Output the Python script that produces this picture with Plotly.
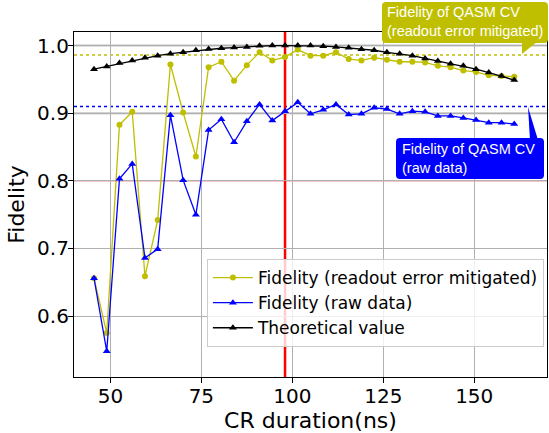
import plotly.graph_objects as go

# ---- data ----
cr_duration = [45.5, 49, 52.5, 56, 59.5, 63, 66.5, 70, 73.5, 77, 80.5, 84, 87.5, 91, 94.5, 98,
               101.5, 105, 108.5, 112, 115.5, 119, 122.5, 126, 129.5, 133, 136.5, 140, 143.5,
               147, 150.5, 154, 157.5, 161]
fid_mitigated = [0.656, 0.575, 0.883, 0.902, 0.659, 0.742, 0.972, 0.901, 0.836, 0.968, 0.976,
                 0.948, 0.971, 0.990, 0.978, 0.983, 0.994, 0.985, 0.985, 0.990, 0.980, 0.978,
                 0.982, 0.979, 0.976, 0.976, 0.975, 0.970, 0.968, 0.963, 0.961, 0.956, 0.955, 0.954]
fid_raw = [0.656, 0.548, 0.803, 0.825, 0.686, 0.699, 0.897, 0.801, 0.750, 0.875, 0.891, 0.857,
           0.888, 0.913, 0.889, 0.903, 0.916, 0.899, 0.905, 0.913, 0.898, 0.899, 0.908, 0.906,
           0.899, 0.903, 0.902, 0.896, 0.896, 0.893, 0.890, 0.886, 0.886, 0.884]
fid_theory = [0.965, 0.969, 0.974, 0.978, 0.982, 0.985, 0.988, 0.990, 0.993, 0.995, 0.996,
              0.997, 0.998, 0.9995, 1.0, 1.0, 1.0, 1.0, 0.999, 0.998, 0.9966, 0.9946, 0.993,
              0.990, 0.988, 0.985, 0.981, 0.977, 0.973, 0.970, 0.965, 0.960, 0.955, 0.949]
qasm_cv_mitigated = 0.986
qasm_cv_raw = 0.910
threshold = 0.8
chosen_duration = 98
ref_lines = [1.0, 0.9]
x_ticks = [50, 75, 100, 125, 150]
y_ticks = [0.6, 0.7, 0.8, 0.9, 1.0]

YEL = "#bfbf00"
BLU = "#0000ff"
FONT = "DejaVu Sans"

# ---- layout geometry (pixels) ----
W, H = 549, 433
ML, MR, MT, MB = 74, 2, 32, 56
PW, PH = W - ML - MR, H - MT - MB


def px(xp):
    return (xp - ML) / PW


def py(yp):
    return (H - MB - yp) / PH


def rounded_box(x0, y0, x1, y1, r=4):
    X0, X1 = px(x0), px(x1)
    Y0, Y1 = py(y0), py(y1)  # Y0 top, Y1 bottom
    rx, ry = r / PW, r / PH
    return (f"M {X0+rx} {Y0} L {X1-rx} {Y0} Q {X1} {Y0} {X1} {Y0-ry} "
            f"L {X1} {Y1+ry} Q {X1} {Y1} {X1-rx} {Y1} L {X0+rx} {Y1} "
            f"Q {X0} {Y1} {X0} {Y1+ry} L {X0} {Y0-ry} Q {X0} {Y0} {X0+rx} {Y0} Z")


def wedge(pts):
    s = " L ".join(f"{px(a)} {py(b)}" for a, b in pts)
    return f"M {s} Z"


fig = go.Figure()
fig.add_trace(go.Scatter(x=cr_duration, y=fid_mitigated, mode="lines+markers",
                         name="Fidelity (readout error mitigated)",
                         line=dict(color=YEL, width=1.3),
                         marker=dict(symbol="circle", size=6, color=YEL)))
fig.add_trace(go.Scatter(x=cr_duration, y=fid_raw, mode="lines+markers",
                         name="Fidelity (raw data)",
                         line=dict(color=BLU, width=1.3),
                         marker=dict(symbol="triangle-up", size=7, color=BLU)))
fig.add_trace(go.Scatter(x=cr_duration, y=fid_theory, mode="lines+markers",
                         name="Theoretical value",
                         line=dict(color="black", width=1.3),
                         marker=dict(symbol="triangle-up", size=7, color="black")))

shapes = []
for v in ref_lines:
    shapes.append(dict(type="line", xref="paper", x0=0, x1=1, yref="y", y0=v, y1=v,
                       line=dict(color="#d3d3d3", width=2.5), layer="below"))
shapes.append(dict(type="line", xref="paper", x0=0, x1=1, yref="y", y0=threshold, y1=threshold,
                   line=dict(color="rgba(215,70,70,0.6)", width=1.5), layer="below"))
shapes.append(dict(type="line", xref="paper", x0=0, x1=1, yref="y", y0=qasm_cv_mitigated,
                   y1=qasm_cv_mitigated, line=dict(color=YEL, width=1.5, dash="dot"), layer="below"))
shapes.append(dict(type="line", xref="paper", x0=0, x1=1, yref="y", y0=qasm_cv_raw,
                   y1=qasm_cv_raw, line=dict(color=BLU, width=1.5, dash="dot"), layer="below"))
shapes.append(dict(type="line", xref="x", x0=chosen_duration, x1=chosen_duration, yref="paper",
                   y0=0, y1=1, line=dict(color="red", width=2.5), layer="below"))

# callout boxes with pointer wedges
shapes.append(dict(type="path", xref="paper", yref="paper", path=rounded_box(382, 2, 548, 43),
                   fillcolor=YEL, line=dict(width=0), layer="above"))
shapes.append(dict(type="path", xref="paper", yref="paper",
                   path=wedge([(522, 54), (522, 41), (538, 41)]),
                   fillcolor=YEL, line=dict(width=0), layer="above"))
shapes.append(dict(type="path", xref="paper", yref="paper", path=rounded_box(396, 138, 544, 179),
                   fillcolor=BLU, line=dict(width=0), layer="above"))
shapes.append(dict(type="path", xref="paper", yref="paper",
                   path=wedge([(528, 107), (530, 140), (538, 140)]),
                   fillcolor=BLU, line=dict(width=0), layer="above"))

annotations = [
    dict(x=px(386), y=py(3), xref="paper", yref="paper", xanchor="left", yanchor="top",
         text="Fidelity of QASM CV<br>(readout error mitigated)", align="left",
         showarrow=False, borderpad=0,
         font=dict(family="Liberation Sans", size=14.5, color="white")),
    dict(x=px(401), y=py(139.5), xref="paper", yref="paper", xanchor="left", yanchor="top",
         text="Fidelity of QASM CV<br>(raw data)", align="left",
         showarrow=False, borderpad=0,
         font=dict(family="Liberation Sans", size=14.5, color="white")),
]

fig.update_layout(
    width=W, height=H,
    margin=dict(l=ML, r=MR, t=MT, b=MB, autoexpand=False),
    paper_bgcolor="white", plot_bgcolor="white",
    font=dict(family=FONT, color="black"),
    shapes=shapes, annotations=annotations,
    showlegend=True,
    legend=dict(x=0.281, y=0.342, xanchor="left", yanchor="top", itemwidth=40,
                bgcolor="rgba(255,255,255,0.8)", bordercolor="#cccccc", borderwidth=1,
                font=dict(family=FONT, size=17, color="black"), tracegroupgap=0),
)
fig.update_xaxes(range=[40, 170], tickvals=x_ticks, showgrid=True, gridcolor="#b0b0b0",
                 gridwidth=1, ticks="outside", ticklen=5, tickcolor="black",
                 showline=True, linecolor="black", linewidth=1.2, mirror=True,
                 zeroline=False, tickfont=dict(size=20), ticklabelstandoff=-4,
                 title=dict(text="CR duration(ns)", font=dict(size=22), standoff=4))
fig.update_yaxes(range=[0.51, 1.02], tickvals=y_ticks, tickformat=".1f", showgrid=True,
                 gridcolor="#b0b0b0", gridwidth=1, ticks="outside", ticklen=5,
                 tickcolor="black", showline=True, linecolor="black", linewidth=1.2,
                 mirror=True, zeroline=False, tickfont=dict(size=20), ticklabelstandoff=-5,
                 title=dict(text="Fidelity", font=dict(size=22), standoff=6))

fig.write_html("out.html", config={"displayModeBar": False},
               post_script="document.body.style.margin='0';")
